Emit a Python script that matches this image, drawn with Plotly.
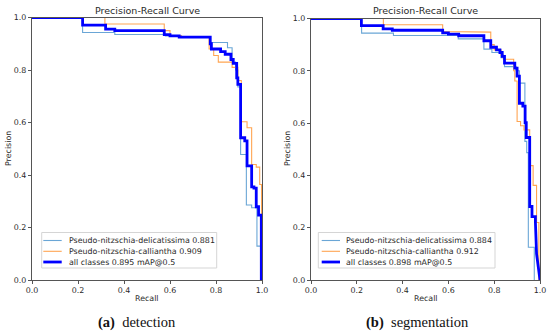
import plotly.graph_objects as go

# ---------------- data ----------------
# step curves: level y[i] holds from x[i] to x[i+1]
det_deli_x = [0, 0.22, 0.36, 0.58, 0.65, 0.775, 0.85, 0.87, 0.885, 0.895, 0.907, 0.932, 0.955, 0.978, 0.997]
det_deli_y = [1.0, 0.943, 0.935, 0.93, 0.925, 0.905, 0.885, 0.83, 0.80, 0.735, 0.478, 0.286, 0.275, 0.129, 0.0]

det_calli_x = [0, 0.317, 0.575, 0.60, 0.65, 0.77, 0.79, 0.81, 0.87, 0.895, 0.91, 0.935, 0.955, 0.975, 0.99, 0.998]
det_calli_y = [1.0, 0.975, 0.95, 0.93, 0.925, 0.88, 0.855, 0.83, 0.81, 0.76, 0.603, 0.58, 0.44, 0.43, 0.364, 0.0]

det_all_x = [0, 0.22, 0.32, 0.36, 0.575, 0.60, 0.64, 0.775, 0.78, 0.82, 0.84, 0.865, 0.875, 0.89, 0.895,
             0.907, 0.925, 0.935, 0.955, 0.965, 0.975, 0.985, 0.997]
det_all_y = [1.0, 0.971, 0.956, 0.95, 0.935, 0.93, 0.925, 0.90, 0.88, 0.87, 0.86, 0.84, 0.825, 0.77, 0.745,
             0.542, 0.53, 0.435, 0.355, 0.35, 0.279, 0.247, 0.0]

seg_deli_x = [0, 0.221, 0.36, 0.643, 0.755, 0.79, 0.83, 0.845, 0.895, 0.91, 0.934, 0.942, 0.949, 0.975]
seg_deli_y = [1.0, 0.944, 0.935, 0.922, 0.883, 0.87, 0.85, 0.816, 0.80, 0.753, 0.53, 0.487, 0.125, 0.0]

seg_calli_x = [0, 0.316, 0.575, 0.62, 0.785, 0.80, 0.83, 0.84, 0.885, 0.89, 0.90, 0.915, 0.93, 0.955, 0.97, 0.985, 0.995]
seg_calli_y = [1.0, 0.976, 0.95, 0.948, 0.90, 0.88, 0.86, 0.844, 0.80, 0.761, 0.606, 0.59, 0.574, 0.4375, 0.362, 0.22, 0.0]

seg_all_x = [0, 0.22, 0.315, 0.355, 0.575, 0.60, 0.645, 0.755, 0.785, 0.81, 0.825, 0.835, 0.845, 0.89, 0.90,
             0.91, 0.925, 0.935, 0.94, 0.955, 0.965, 0.98]
seg_all_y = [1.0, 0.973, 0.96, 0.955, 0.945, 0.94, 0.934, 0.915, 0.89, 0.88, 0.87, 0.855, 0.829, 0.81, 0.78,
             0.676, 0.665, 0.602, 0.545, 0.281, 0.242, 0.22]
seg_all_tail_x = [0.985, 1.0]
seg_all_tail_y = [0.10, 0.0]

det_names = ["Pseudo-nitzschia-delicatissima 0.881", "Pseudo-nitzschia-calliantha 0.909", "all classes 0.895 mAP@0.5"]
seg_names = ["Pseudo-nitzschia-delicatissima 0.884", "Pseudo-nitzschia-calliantha 0.912", "all classes 0.898 mAP@0.5"]
tick_vals = [0, 0.2, 0.4, 0.6, 0.8, 1.0]
plot_title = "Precision-Recall Curve"
x_title = "Recall"
y_title = "Precision"
captions = [("(a)", "detection"), ("(b)", "segmentation")]


def steps(xs, ys, tail_x=(), tail_y=()):
    px, py = [], []
    for i in range(len(xs) - 1):
        px += [xs[i], xs[i + 1]]
        py += [ys[i], ys[i]]
    px.append(xs[-1]); py.append(ys[-1])
    px += list(tail_x); py += list(tail_y)
    return px, py


C_DELI = "#6aa6d6"
C_CALLI = "#ffa552"
C_ALL = "#0000ff"
TXT = "#2a2a2a"
AX = "#555555"
FONT = "DejaVu Sans"

W, H = 550, 334
def fx(p): return p / W
def fy(p): return 1 - p / H

fig = go.Figure()

panels = [
    dict(xa="x", ya="y", names=det_names, leg_box=(41.7, 216.7), leg_line=(43.3, 61.7), leg_text=67.3,
         series=[(det_deli_x, det_deli_y, (), ()), (det_calli_x, det_calli_y, (), ()), (det_all_x, det_all_y, (), ())]),
    dict(xa="x2", ya="y2", names=seg_names, leg_box=(318.3, 495.0), leg_line=(321.7, 340.0), leg_text=344.3,
         series=[(seg_deli_x, seg_deli_y, (), ()), (seg_calli_x, seg_calli_y, (), ()),
                 (seg_all_x, seg_all_y, seg_all_tail_x, seg_all_tail_y)]),
]
styles = [(C_DELI, 1.1), (C_CALLI, 1.1), (C_ALL, 2.8)]
row_y = [240.5, 251.3, 262.0]

shapes, ann = [], []
for p in panels:
    for (xs, ys, tx, ty), name, (col, w) in zip(p["series"], p["names"], styles):
        px, py = steps(xs, ys, tx, ty)
        fig.add_trace(go.Scatter(x=px, y=py, mode="lines", name=name, xaxis=p["xa"], yaxis=p["ya"],
                                 showlegend=False, line=dict(color=col, width=w)))
    # legend drawn in the matplotlib style
    bx0, bx1 = p["leg_box"]
    shapes.append(dict(type="rect", xref="paper", yref="paper", x0=fx(bx0), x1=fx(bx1), y0=fy(268), y1=fy(232.5),
                       line=dict(color="#d5d5d5", width=1), fillcolor="rgba(255,255,255,0.85)", layer="above"))
    for (name, (col, w)), ry in zip(zip(p["names"], styles), row_y):
        lx0, lx1 = p["leg_line"]
        shapes.append(dict(type="line", xref="paper", yref="paper", x0=fx(lx0), x1=fx(lx1), y0=fy(ry), y1=fy(ry),
                           line=dict(color=col, width=w), layer="above"))
        ann.append(dict(text=name, x=fx(p["leg_text"]), y=fy(ry), xref="paper", yref="paper", showarrow=False,
                        xanchor="left", yanchor="middle", font=dict(family=FONT, size=7.9, color=TXT)))

axis_common = dict(range=[0, 1], tickvals=tick_vals, tickformat=".1f", showgrid=False, zeroline=False,
                   showline=True, mirror=True, linecolor=AX, linewidth=1, ticks="outside", automargin=False,
                   ticklen=3, tickcolor=AX, tickfont=dict(family=FONT, size=7.9, color=TXT))

fig.update_layout(
    width=W, height=H, margin=dict(l=0, r=0, t=0, b=0, autoexpand=False),
    paper_bgcolor="white", plot_bgcolor="white", showlegend=False,
    xaxis=dict(domain=[fx(32), fx(262)], anchor="y", **axis_common),
    yaxis=dict(domain=[fy(280), fy(17.5)], anchor="x", **axis_common),
    xaxis2=dict(domain=[fx(311), fx(540)], anchor="y2", **axis_common),
    yaxis2=dict(domain=[fy(280), fy(18.5)], anchor="x2", **axis_common),
)

for cx, ytx in [(147, 8), (425.5, 287)]:
    ann.append(dict(text=plot_title, x=fx(cx), y=fy(10), xref="paper", yref="paper", showarrow=False,
                    xanchor="center", yanchor="middle", font=dict(family=FONT, size=9.5, color=TXT)))
    ann.append(dict(text=x_title, x=fx(cx), y=fy(298), xref="paper", yref="paper", showarrow=False,
                    xanchor="center", yanchor="middle", font=dict(family=FONT, size=7.9, color=TXT)))
    ann.append(dict(text=y_title, x=fx(ytx), y=fy(149), xref="paper", yref="paper", showarrow=False,
                    xanchor="center", yanchor="middle", textangle=-90, font=dict(family=FONT, size=7.9, color=TXT)))
for (lab, word), cx in zip(captions, [137, 417]):
    ann.append(dict(text=f"<b>{lab}</b>  {word}", x=fx(cx), y=fy(322), xref="paper", yref="paper",
                    showarrow=False, xanchor="center", yanchor="middle",
                    font=dict(family="Liberation Serif", size=14.5, color="#111")))
fig.update_layout(annotations=ann, shapes=shapes)

fig.write_html("out.html", config={"displayModeBar": False},
               post_script="document.body.style.margin='0px';document.body.style.overflow='hidden';")
